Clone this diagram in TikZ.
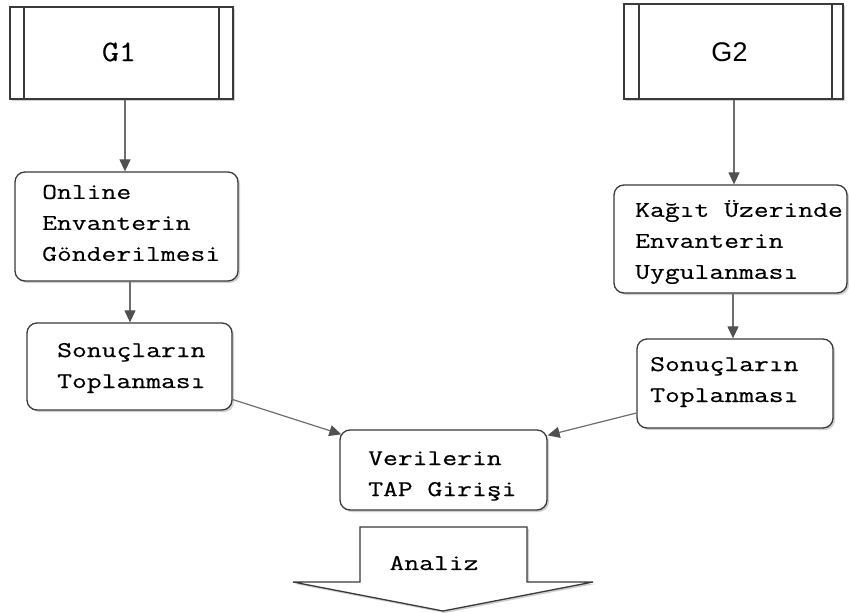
\documentclass[tikz,border=0pt]{standalone}
\usepackage{fontspec}
\usetikzlibrary{shadows,arrows.meta}
\newfontfamily\boxmono[FakeStretch=1.28,FakeBold=0.4]{Latin Modern Mono}
\newfontfamily\gmono[FakeStretch=1.1,FakeBold=0.3]{Latin Modern Mono}
\newfontfamily\gsans{Liberation Sans}
\definecolor{edgec}{HTML}{3A3A3A}
\definecolor{arrc}{HTML}{6E6E6E}
\definecolor{headc}{HTML}{505050}
\tikzset{
  pbox/.style={draw=edgec, line width=1.3pt, fill=white, rounded corners=10pt,
    drop shadow={shadow xshift=2pt, shadow yshift=-2pt, fill=black!30, opacity=0.6},
    inner sep=0pt},
  gbox/.style={draw=edgec, line width=1.3pt, fill=white,
    drop shadow={shadow xshift=2pt, shadow yshift=-2pt, fill=black!30, opacity=0.6},
    inner sep=0pt},
  btext/.style={anchor=west, align=left, inner sep=0pt, font=\boxmono\fontsize{22.5}{31}\selectfont},
  conn/.style={draw=arrc, line width=1.2pt,
    -{Triangle[length=12pt,width=11pt,fill=headc,color=headc]}},
}
\begin{document}
\begin{tikzpicture}[x=1pt,y=-1pt]
\useasboundingbox (0,0) rectangle (849,613);
\fill[white] (0,0) rectangle (849,613);

% G1
\node[gbox, minimum width=223pt, minimum height=92pt] (g1) at (121.5,53) {};
\draw[edgec, line width=1.3pt] (24,7) -- (24,99) (219,7) -- (219,99);
\node[inner sep=0pt, font=\gmono\fontsize{30}{30}\selectfont] (g1t) at (119,52) {G1};

% G2
\node[gbox, minimum width=219pt, minimum height=95pt] (g2) at (733.5,51.5) {};
\draw[edgec, line width=1.3pt] (639,4) -- (639,99) (832,4) -- (832,99);
\node[inner sep=0pt, font=\gsans\fontsize{27}{27}\selectfont] (g2t) at (729.5,52) {G2};

% Online
\node[pbox, minimum width=223pt, minimum height=109pt] (online) at (126.5,226.5) {};
\node[btext] (onlinet) at (42,223) {Online\\Envanterin\\Gönderilmesi};

% Sonuc left
\node[pbox, minimum width=205pt, minimum height=87pt] (sonL) at (129.5,366.5) {};
\node[btext] (sonLt) at (57,368) {Sonuçların\\Toplanması};

% Kagit
\node[pbox, minimum width=233pt, minimum height=108pt] (kagit) at (730.5,239) {};
\node[btext] (kagitt) at (635,242) {Kağıt Üzerinde\\Envanterin\\Uygulanması};

% Sonuc right
\node[pbox, minimum width=196pt, minimum height=89pt] (sonR) at (735,383.5) {};
\node[btext] (sonRt) at (650,382) {Sonuçların\\Toplanması};

% Verilerin
\node[pbox, minimum width=207pt, minimum height=80pt] (ver) at (443.5,470) {};
\node[btext] (vert) at (368,476) {Verilerin\\TAP Girişi};

% Analiz arrow
\draw[edgec, line width=1.3pt, fill=white,
  drop shadow={shadow xshift=2pt, shadow yshift=-2pt, fill=black!30, opacity=0.6}]
  (360,527) -- (527,527) -- (527,582) -- (593,582) -- (443,611) -- (293,582) -- (360,582) -- cycle;
\node[inner sep=0pt, font=\boxmono\fontsize{22.5}{31}\selectfont] (analiz) at (434,563) {Analiz};

% connectors
\draw[conn] (g1.south -| 125,0) -- (online.north -| 125,0);
\draw[conn] (g2.south -| 734,0) -- (kagit.north -| 734,0);
\draw[conn] (online.south -| 130,0) -- (sonL.north -| 130,0);
\draw[conn] (kagit.south -| 733,0) -- (sonR.north -| 733,0);
\draw[conn] ([yshift=-33pt]sonL.east) -- ([shift={(2pt,-5pt)}]ver.north west);
\draw[conn] ([yshift=-29.5pt]sonR.west) -- ([shift={(0pt,-6pt)}]ver.north east);
\end{tikzpicture}
\end{document}
